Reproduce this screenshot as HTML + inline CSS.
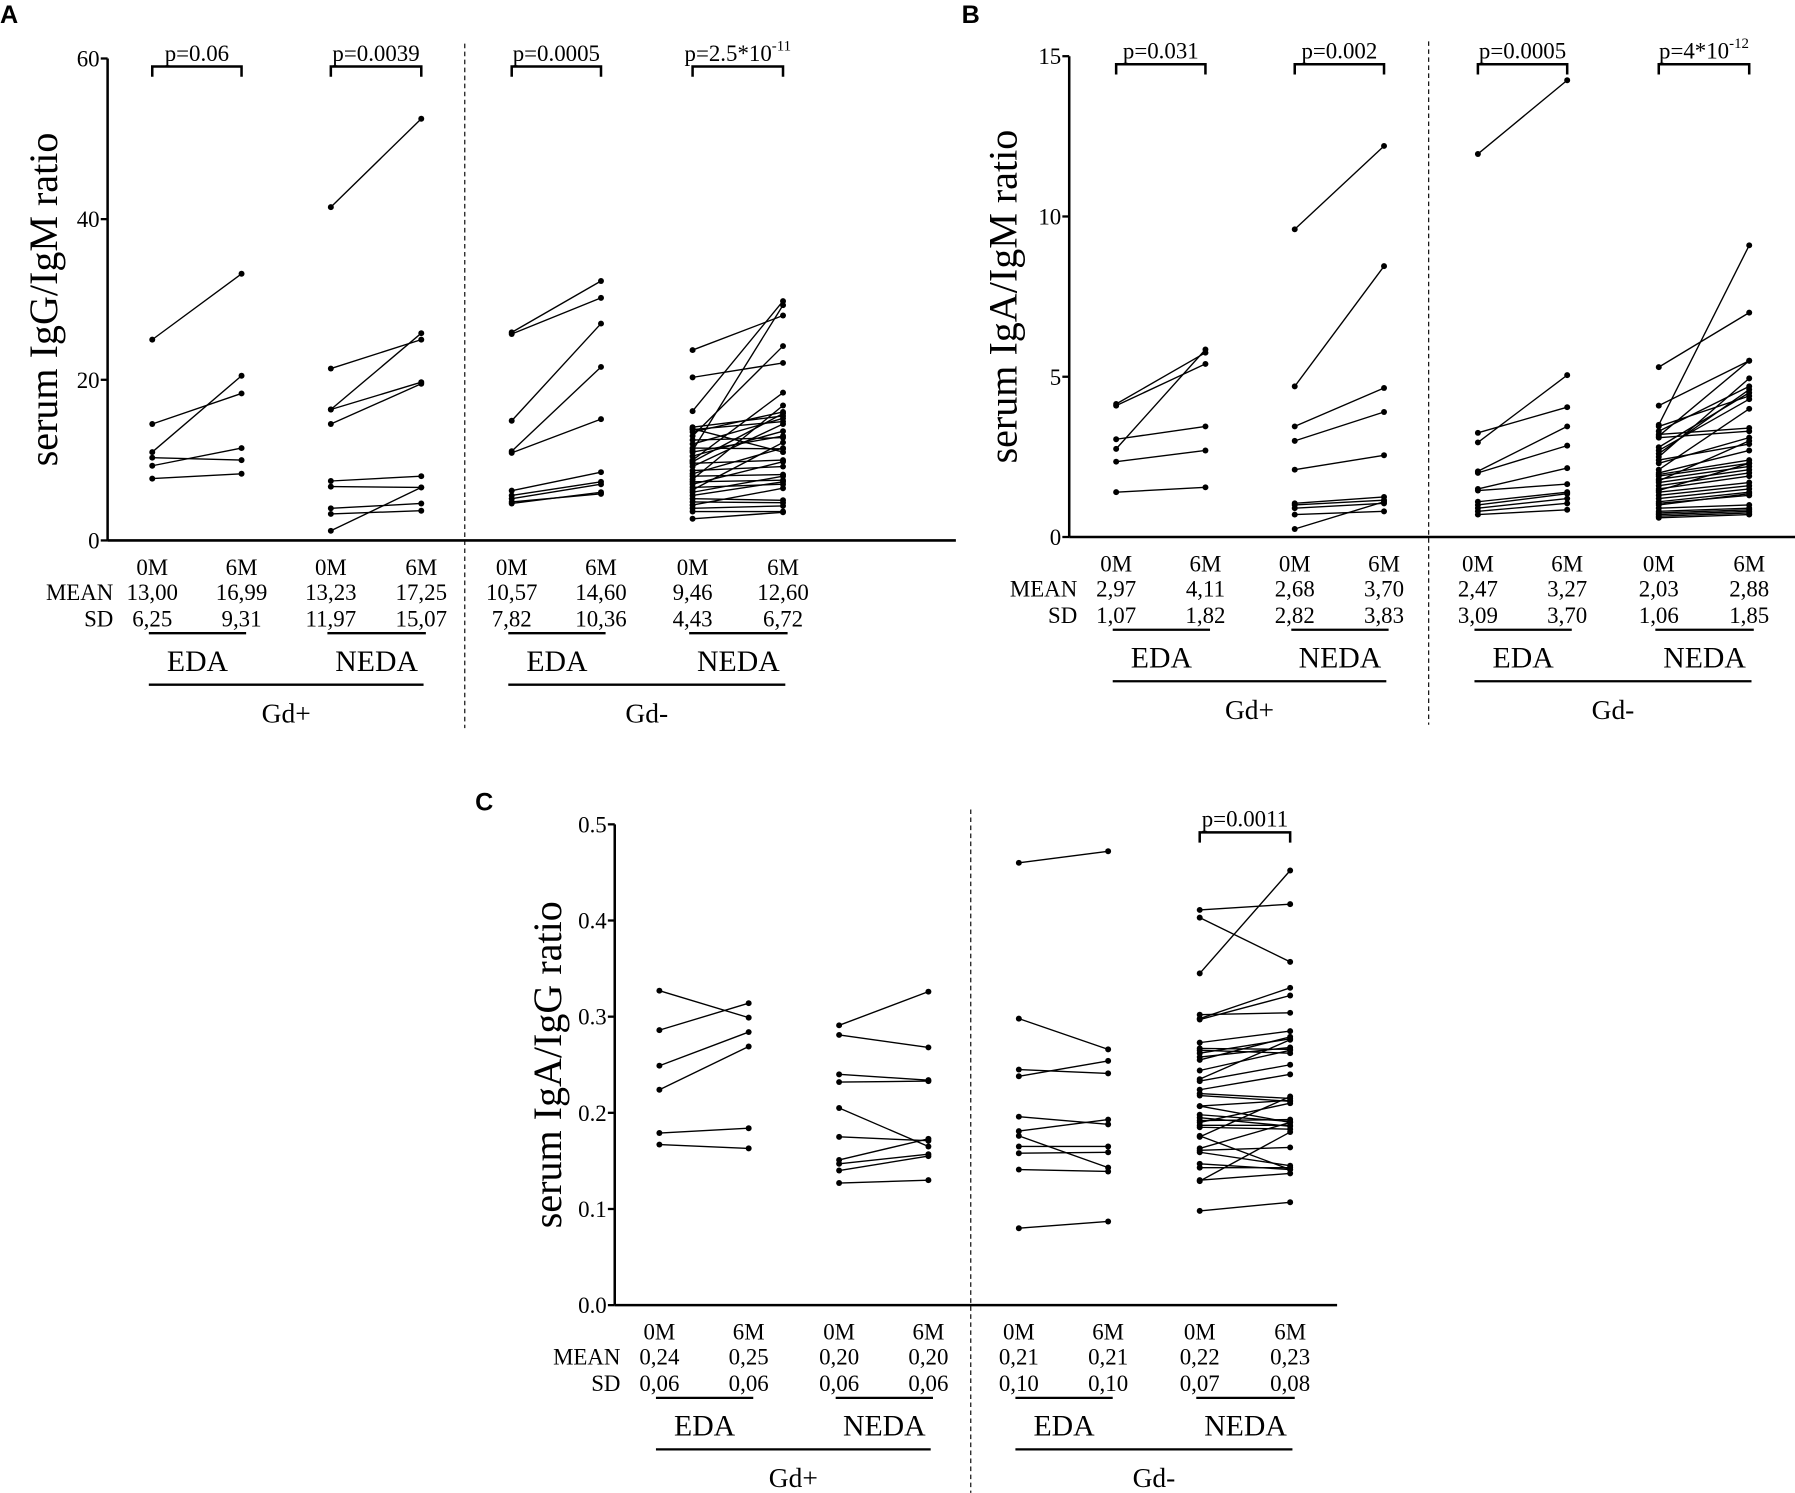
<!DOCTYPE html>
<html><head><meta charset="utf-8"><style>
html,body{margin:0;padding:0;background:#fff}
svg{display:block}
text{font-family:"Liberation Serif",serif;fill:#000}
.lab{font-family:"Liberation Sans",sans-serif;font-weight:bold}
</style></head><body>
<svg id="fig" width="1795" height="1493" viewBox="0 0 1568 1304"></svg>
<script>
// ---------- data ----------
const groupNames = ["Gd+ EDA","Gd+ NEDA","Gd- EDA","Gd- NEDA"];
const timeLabels = ["0M","6M"];
const aTicks = [0,20,40,60];
const aEDAplus0 = [25,14.5,11,10.3,9.3,7.7];
const aEDAplus6 = [33.2,18.3,20.5,10,11.5,8.3];
const aNEDAplus0 = [41.5,21.4,16.3,16.3,14.5,7.4,6.7,4.0,3.3,1.2];
const aNEDAplus6 = [52.5,25,25.8,19.7,19.5,8,6.6,4.6,3.7,6.6];
const aEDAminus0 = [25.9,25.7,14.9,11.1,10.9,6.2,5.6,5.2,4.8,4.6];
const aEDAminus6 = [32.3,30.2,27,21.6,15.1,8.5,7.3,7.0,5.8,6.0];
const aNEDAminus0 = [23.7,20.3,16.1,14.1,13.8,13.5,13.0,12.5,12.0,11.5,11.2,10.5,10.0,9.6,9.2,8.7,8.3,8.0,7.6,7.3,7.0,6.6,6.3,6.0,5.6,5.2,4.8,4.4,4.0,3.6,2.7,9.8,11.0,13.9];
const aNEDAminus6 = [28.0,22.1,29.8,15.5,14.8,16.0,24.2,12.8,15.2,11.4,29.3,13.6,18.4,10.0,14.5,9.2,11.5,8.2,16.8,7.5,9.8,7.0,12.2,8.0,7.3,5.0,4.7,6.5,4.3,3.6,3.5,15.8,13.0,11.0];
const bTicks = [0,5,10,15];
const bEDAplus0 = [4.15,4.1,2.75,3.05,2.35,1.4];
const bEDAplus6 = [5.75,5.4,5.85,3.45,2.7,1.55];
const bNEDAplus0 = [9.6,4.7,3.45,3.0,2.1,1.05,1.0,0.9,0.7,0.25];
const bNEDAplus6 = [12.2,8.45,4.65,3.9,2.55,1.25,1.15,1.05,0.8,1.1];
const bEDAminus0 = [11.95,3.25,2.95,2.05,2.0,1.5,1.45,1.1,1.0,0.9,0.8,0.7];
const bEDAminus6 = [14.25,4.05,5.05,3.45,2.85,2.15,1.65,1.4,1.35,1.2,1.05,0.85];
const bNEDAminus0 = [5.3,4.1,3.5,3.45,3.3,3.2,3.15,3.1,2.8,2.7,2.5,2.4,2.3,2.1,2.0,1.95,1.9,1.8,1.75,1.7,1.6,1.5,1.45,1.4,1.3,1.2,1.1,1.05,1.0,0.9,0.8,0.75,0.7,0.65,0.6,2.6];
const bNEDAminus6 = [7.0,5.5,9.1,4.4,4.7,3.4,5.5,3.3,4.5,4.3,4.95,2.9,3.1,4.0,2.7,2.4,2.3,2.2,3.0,2.1,2.0,1.9,2.3,1.7,1.6,1.5,1.4,1.3,1.35,1.0,0.9,0.85,0.8,0.75,0.7,4.6];
const cTicks = [0,0.1,0.2,0.3,0.4,0.5];
const cEDAplus0 = [0.327,0.286,0.249,0.224,0.179,0.167];
const cEDAplus6 = [0.299,0.314,0.284,0.269,0.184,0.163];
const cNEDAplus0 = [0.291,0.281,0.240,0.232,0.205,0.175,0.151,0.147,0.140,0.127];
const cNEDAplus6 = [0.326,0.268,0.234,0.233,0.165,0.171,0.173,0.157,0.155,0.130];
const cEDAminus0 = [0.460,0.298,0.245,0.238,0.196,0.181,0.176,0.165,0.158,0.141,0.080];
const cEDAminus6 = [0.472,0.266,0.241,0.254,0.188,0.193,0.143,0.165,0.159,0.139,0.087];
const cNEDAminus0 = [0.411,0.403,0.345,0.302,0.298,0.297,0.273,0.267,0.265,0.262,0.258,0.255,0.244,0.235,0.233,0.224,0.220,0.218,0.207,0.207,0.198,0.195,0.192,0.190,0.187,0.185,0.176,0.175,0.163,0.161,0.159,0.147,0.143,0.130,0.129,0.098];
const cNEDAminus6 = [0.417,0.357,0.452,0.304,0.330,0.322,0.285,0.266,0.262,0.277,0.268,0.279,0.265,0.276,0.250,0.240,0.215,0.212,0.213,0.190,0.191,0.186,0.193,0.210,0.187,0.183,0.141,0.217,0.190,0.164,0.145,0.141,0.143,0.137,0.180,0.107];
const aMeans = ["13,00","16,99","13,23","17,25","10,57","14,60","9,46","12,60"];
const aSDs = ["6,25","9,31","11,97","15,07","7,82","10,36","4,43","6,72"];
const bMeans = ["2,97","4,11","2,68","3,70","2,47","3,27","2,03","2,88"];
const bSDs = ["1,07","1,82","2,82","3,83","3,09","3,70","1,06","1,85"];
const cMeans = ["0,24","0,25","0,20","0,20","0,21","0,21","0,22","0,23"];
const cSDs = ["0,06","0,06","0,06","0,06","0,10","0,10","0,07","0,08"];
const aP = [["p=0.06",""],["p=0.0039",""],["p=0.0005",""],["p=2.5*10","-11"]];
const bP = [["p=0.031",""],["p=0.002",""],["p=0.0005",""],["p=4*10","-12"]];
const cP = [null,null,null,["p=0.0011",""]];

const NS="http://www.w3.org/2000/svg";
const fig=document.getElementById('fig');
function mk(tag,attrs,parent){const e=document.createElementNS(NS,tag);for(const k in attrs)e.setAttribute(k,attrs[k]);(parent||fig).appendChild(e);return e;}
function txt(x,y,s,size,anchor,parent){const t=mk('text',{x:x,y:y,'font-size':size,'text-anchor':anchor||'middle'},parent);t.textContent=s;return t;}

function panel(cfg){
  const g=mk('g',{});
  
  
  const yS=v=>cfg.y0-(v/cfg.ymax)*(cfg.y0-cfg.ytop);
  const lab=txt(cfg.labX,cfg.labY,cfg.letter,22,'start',g);lab.setAttribute('class','lab');
  
  
  const ya=mk('line',{x1:cfg.ax,y1:cfg.ytop,x2:cfg.ax,y2:cfg.y0,stroke:'#000','stroke-width':2.2},g);
  
  
  const xa=mk('line',{x1:cfg.ax,y1:cfg.y0,x2:cfg.xend,y2:cfg.y0,stroke:'#000','stroke-width':2.2},g);
  
  
  cfg.ticks.forEach(t=>{
    mk('line',{x1:cfg.ax-6,y1:yS(t),x2:cfg.ax,y2:yS(t),stroke:'#000','stroke-width':2},g);
    const tl=txt(cfg.ax-7,yS(t)+7,cfg.tickFmt(t),20,'end',g);
    
    
  });
  const yt=txt(0,0,cfg.ytitle,35,'middle',g);
  yt.setAttribute('transform',`translate(${cfg.titleX},${(cfg.ytop+cfg.y0)/2}) rotate(-90)`);
  
  
  const dl=mk('line',{x1:cfg.divX,y1:cfg.ytop-13,x2:cfg.divX,y2:cfg.divBottom,stroke:'#000','stroke-width':1,'stroke-dasharray':'4,3'},g);
  
  
  cfg.series.forEach((pair,gi)=>{
    const x0=cfg.cats[gi*2],x1=cfg.cats[gi*2+1];
    pair[0].forEach((v,i)=>{
      const l=mk('line',{x1:x0,y1:yS(v),x2:x1,y2:yS(pair[1][i]),stroke:'#000','stroke-width':1.2},g);
      
      
      [[x0,v],[x1,pair[1][i]]].forEach(p=>{
        const c=mk('circle',{cx:p[0],cy:yS(p[1]),r:2.6,fill:'#000'},g);
        
        
      });
    });
    const p=cfg.pvals[gi];
    if(p){
      const by=cfg.ytop+7;
      const br=mk('path',{d:`M${x0},${by+9} V${by} H${x1} V${by+9}`,fill:'none',stroke:'#000','stroke-width':2.2},g);
      
      
      const pt=txt((x0+x1)/2,by-5,p[0],20,'middle',g);
      if(p[1]){const s=mk('tspan',{'font-size':13,dy:-9},pt);s.textContent=p[1];}
      
      
    }
  });
  const ly=cfg.y0;
  cfg.cats.forEach((x,i)=>{
    txt(x,ly+30,timeLabels[i%2],20,'middle',g);
    txt(x,ly+52,cfg.means[i],20,'middle',g);
    txt(x,ly+75,cfg.sds[i],20,'middle',g);
  });
  txt(cfg.cats[0]-34,ly+52,'MEAN',20,'end',g);
  txt(cfg.cats[0]-34,ly+75,'SD',20,'end',g);
  for(let k=0;k<4;k++){
    const xa0=cfg.cats[k*2]-3,xa1=cfg.cats[k*2+1]+4;
    mk('line',{x1:xa0,y1:ly+81,x2:xa1,y2:ly+81,stroke:'#000','stroke-width':2},g);
    const gt=txt((xa0+xa1)/2,ly+114,k%2?'NEDA':'EDA',26,'middle',g);
    
    
  }
  for(let k=0;k<2;k++){
    const xa0=cfg.cats[k*4]-3,xa1=cfg.cats[k*4+3]+2;
    mk('line',{x1:xa0,y1:ly+126,x2:xa1,y2:ly+126,stroke:'#000','stroke-width':2},g);
    const gt=txt((xa0+xa1)/2,ly+159,k?'Gd-':'Gd+',24,'middle',g);
    
    
  }
}

panel({name:'panel-a',letter:'A',labX:0,labY:20,ax:94,ytop:51,y0:472,xend:835,ymax:60,ticks:aTicks,tickFmt:t=>String(t),
  ytitle:'serum IgG/IgM ratio',titleX:50,divX:406,divBottom:636,
  cats:[133,211,289,368,447,525,605,684],
  series:[[aEDAplus0,aEDAplus6],[aNEDAplus0,aNEDAplus6],[aEDAminus0,aEDAminus6],[aNEDAminus0,aNEDAminus6]],
  pvals:aP,means:aMeans,sds:aSDs});
panel({name:'panel-b',letter:'B',labX:840,labY:20,ax:934,ytop:49,y0:469,xend:1568,ymax:15,ticks:bTicks,tickFmt:t=>String(t),
  ytitle:'serum IgA/IgM ratio',titleX:888,divX:1248,divBottom:633,
  cats:[975,1053,1131,1209,1291,1369,1449,1528],
  series:[[bEDAplus0,bEDAplus6],[bNEDAplus0,bNEDAplus6],[bEDAminus0,bEDAminus6],[bNEDAminus0,bNEDAminus6]],
  pvals:bP,means:bMeans,sds:bSDs});
panel({name:'panel-c',letter:'C',labX:415,labY:708,ax:537,ytop:720,y0:1140,xend:1168,ymax:0.5,ticks:cTicks,tickFmt:t=>t.toFixed(1),
  ytitle:'serum IgA/IgG ratio',titleX:490,divX:848,divBottom:1304,
  cats:[576,654,733,811,890,968,1048,1127],
  series:[[cEDAplus0,cEDAplus6],[cNEDAplus0,cNEDAplus6],[cEDAminus0,cEDAminus6],[cNEDAminus0,cNEDAminus6]],
  pvals:cP,means:cMeans,sds:cSDs});
</script>
</body></html>
